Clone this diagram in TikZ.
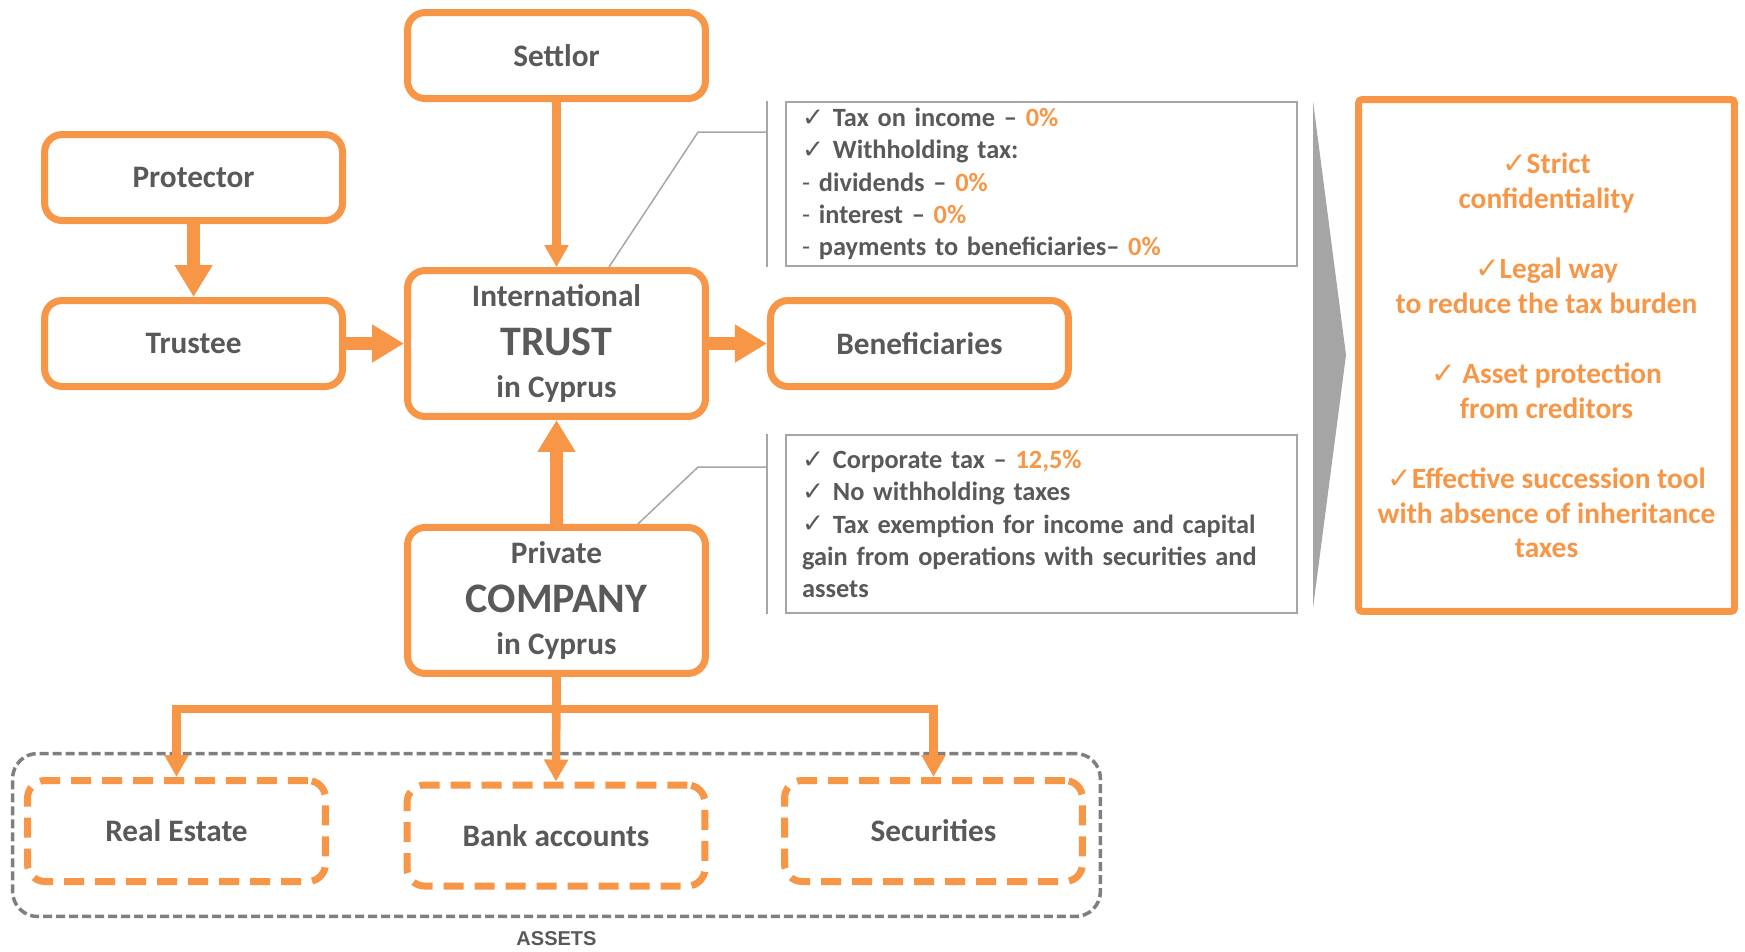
\documentclass[tikz,border=0pt]{standalone}
\usepackage{fontspec}
\setmainfont{Carlito}
\newfontfamily\symfont{DejaVu Sans}[Scale=1.0]
\newfontfamily\capsfont{Liberation Sans}
\usepackage{tikz}
\usetikzlibrary{arrows.meta, positioning, calc}
\definecolor{boxorange}{HTML}{F79646}
\definecolor{inkgray}{HTML}{595959}
\definecolor{rulegray}{HTML}{A6A6A6}
\definecolor{dashgray}{HTML}{7F7F7F}
\definecolor{wedgegray}{HTML}{A5A5A5}
\newcommand{\chk}{{\symfont ✓}}
\newcommand{\hl}[1]{\textcolor{boxorange}{#1}}

\begin{document}
\begin{tikzpicture}[x=0.02cm, y=-0.02cm,
    every node/.style={text=inkgray, font=\bfseries},
    party/.style={draw=boxorange, line width=0.14cm, rounded corners=0.35cm, fill=white,
      minimum width=5.96cm, minimum height=1.72cm, align=center,
      font=\fontsize{17.8}{21}\selectfont\bfseries},
    entity/.style={party, minimum height=2.92cm},
    asset/.style={party, dash pattern=on 0.4cm off 0.22cm, minimum height=2.02cm},
    frame/.style={draw=dashgray, line width=0.07cm, dash pattern=on 0.18cm off 0.08cm,
      rounded corners=0.5cm, minimum width=21.76cm, minimum height=3.26cm},
    taxnote/.style={draw=rulegray, line width=0.04cm, text width=9.58cm, inner xsep=0.32cm,
      align=left, font=\fontsize{15}{18.4}\selectfont\bfseries},
    perks/.style={draw=boxorange, line width=0.14cm, rounded corners=2pt,
      minimum width=7.52cm, minimum height=10.24cm, align=center, text=boxorange,
      font=\fontsize{16.7}{19.9}\selectfont\bfseries},
    tag/.style={inner sep=0pt, font=\capsfont\fontsize{11.4}{13}\selectfont\bfseries},
    bigarr/.style={-{Triangle[length=0.64cm, width=0.72cm]}, line width=0.26cm, draw=boxorange},
    thinarr/.style={-{Triangle[length=0.44cm, width=0.46cm]}, line width=0.17cm, draw=boxorange},
    callout/.style={draw=rulegray, line width=0.03cm},
  ]
  \useasboundingbox (0,0) rectangle (1745,951);

  \node[entity] (trust) at (556.5,343.5)
    {International\\[7pt]{\fontsize{23.9}{26}\selectfont TRUST}\\[3pt]in Cyprus};
  \node[party, above=3.3cm of trust] (settlor) {Settlor};
  \node[party, left=1.16cm of trust] (trustee) {Trustee};
  \node[party, above=1.46cm of trustee] (protector) {Protector};
  \node[party, right=1.16cm of trust] (beneficiaries) {Beneficiaries};
  \node[entity, below=2.08cm of trust] (company)
    {Private\\[7pt]{\fontsize{23.9}{26}\selectfont COMPANY}\\[3pt]in Cyprus};

  \node[frame] (assets) at (556.5,835) {};
  \node[tag, below=0.26cm of assets] (assetstag) {ASSETS};
  \node[asset] (realestate) at (176.5,831) {Real Estate};
  \node[asset] (bank) at (556,835.5) {Bank accounts};
  \node[asset] (securities) at (933.5,831) {Securities};

  \node[taxnote, minimum height=3.28cm] (trustnote) at (1041.5,184)
    {\chk\ Tax on income – \hl{0\%}\\
     \chk\ Withholding tax:\\
     {\mdseries -} dividends – \hl{0\%}\\
     {\mdseries -} interest – \hl{0\%}\\
     {\mdseries -} payments to beneficiaries– \hl{0\%}};
  \node[taxnote, minimum height=3.56cm] (companynote) at (1041.5,524)
    {\chk\ Corporate tax – \hl{12,5\%}\\
     \chk\ No withholding taxes\\
     \chk\ Tax exemption for income and capital\\
     gain from operations with securities and\\
     assets};

  \fill[wedgegray] (1313,101) -- (1346,355) -- (1313,608) -- cycle;

  \node[perks] (benefits) at (1546.5,355.5)
    {\chk Strict\\confidentiality\\[19.9pt]
     \chk Legal way\\to reduce the tax burden\\[19.9pt]
     \chk\ Asset protection\\from creditors\\[19.9pt]
     \chk Effective succession tool\\with absence of inheritance\\taxes};

  \coordinate (trustelbow) at ($(trustnote.north west)+(-87,31)$);
  \coordinate (companyelbow) at ($(companynote.north west)+(-87,33)$);
  \draw[callout] ($(trustnote.north west)+(-18,0)$) -- ($(trustnote.south west)+(-18,0)$);
  \draw[callout] ($(trustnote.north west)+(-18,31)$) -- (trustelbow)
    -- ($(trust.north)!0.344!(trust.north east)$);
  \draw[callout] ($(companynote.north west)+(-18,0)$) -- ($(companynote.south west)+(-18,0)$);
  \draw[callout] ($(companynote.north west)+(-18,33)$) -- (companyelbow)
    -- ($(company.north)!0.534!(company.north east)$);

  \draw[thinarr] (settlor.south) -- (trust.north);
  \draw[bigarr] (protector.south) -- (trustee.north);
  \draw[bigarr] (trustee.east) -- (trust.west);
  \draw[bigarr] (trust.east) -- (beneficiaries.west);
  \draw[bigarr] (company.north) -- (trust.south);

  \coordinate (fork) at ($(company.south)+(0,32)$);
  \draw[thinarr] (company.south) -- (fork) -| (realestate.north);
  \draw[thinarr] (fork) -| (securities.north);
  \draw[thinarr] (company.south) -- (bank.north);
\end{tikzpicture}
\end{document}
